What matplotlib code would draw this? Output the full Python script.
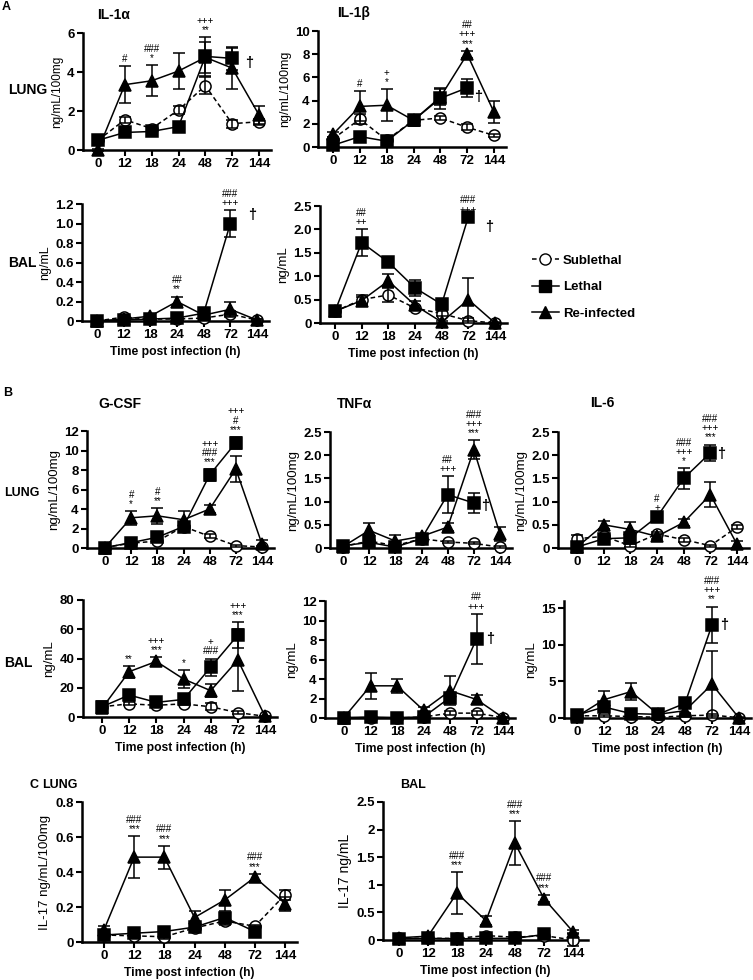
import numpy as np
import matplotlib
matplotlib.use("Agg")
import matplotlib.pyplot as plt
from matplotlib.lines import Line2D

plt.rcParams['font.family'] = ['Liberation Sans', 'DejaVu Sans']
plt.rcParams['font.weight'] = 'bold'

nan = np.nan
times = ["0", "12", "18", "24", "48", "72", "144"]

# ---- A: IL-1a / IL-1b ----
il1a_lung_sub = [0.5, 1.55, 1.1, 2.05, 3.3, 1.35, 1.45]
il1a_lung_sub_err = [0.05, 0.15, 0.1, 0.2, 0.45, 0.2, 0.15]
il1a_lung_let = [0.5, 0.9, 0.95, 1.2, 4.8, 4.7, nan]
il1a_lung_let_err = [0.1, 0.05, 0.1, 0.05, 1.0, 0.6, nan]
il1a_lung_rei = [0.0, 3.35, 3.55, 4.05, 4.75, 4.2, 1.8]
il1a_lung_rei_err = [0.05, 0.95, 0.8, 0.9, 0.8, 1.05, 0.45]
il1a_lung_sig = {1: "#", 2: "###\n*", 4: "+++\n**"}

il1b_lung_sub = [0.7, 2.4, 0.6, 2.3, 2.5, 1.7, 1.0]
il1b_lung_sub_err = [0.2, 0.45, 0.2, 0.3, 0.2, 0.25, 0.1]
il1b_lung_let = [0.15, 0.9, 0.5, 2.3, 4.2, 5.1, nan]
il1b_lung_let_err = [0.1, 0.1, 0.1, 0.5, 0.9, 0.75, nan]
il1b_lung_rei = [1.1, 3.5, 3.6, 2.3, 4.3, 8.0, 3.0]
il1b_lung_rei_err = [0.2, 1.3, 1.4, 0.3, 0.7, 0.3, 0.95]
il1b_lung_sig = {1: "#", 2: "+\n*", 5: "##\n+++\n***"}

il1a_bal_sub = [0.0, 0.04, 0.02, 0.02, 0.03, 0.07, 0.01]
il1a_bal_sub_err = [0.01, 0.02, 0.01, 0.01, 0.01, 0.03, 0.01]
il1a_bal_let = [0.0, 0.01, 0.02, 0.03, 0.08, 1.0, nan]
il1a_bal_let_err = [0.01, 0.01, 0.01, 0.01, 0.02, 0.14, nan]
il1a_bal_rei = [0.0, 0.02, 0.05, 0.2, 0.06, 0.12, 0.01]
il1a_bal_rei_err = [0.01, 0.01, 0.01, 0.05, 0.02, 0.07, 0.01]
il1a_bal_sig = {3: "##\n**", 5: "###\n+++"}

il1b_bal_sub = [0.25, 0.5, 0.6, 0.32, 0.2, 0.05, 0.0]
il1b_bal_sub_err = [0.05, 0.1, 0.15, 0.05, 0.05, 0.05, 0.02]
il1b_bal_let = [0.25, 1.72, 1.3, 0.75, 0.4, 2.27, nan]
il1b_bal_let_err = [0.1, 0.28, 0.08, 0.17, 0.05, 0.0, nan]
il1b_bal_rei = [0.25, 0.48, 0.9, 0.38, 0.02, 0.5, 0.0]
il1b_bal_rei_err = [0.05, 0.08, 0.14, 0.08, 0.02, 0.46, 0.01]
il1b_bal_sig = {1: "##\n++", 5: "###\n+++"}

# ---- B: G-CSF / TNFa / IL-6 ----
gcsf_lung_sub = [0.05, 0.5, 0.7, 2.2, 1.2, 0.25, 0.1]
gcsf_lung_sub_err = [0.05, 0.1, 0.1, 0.2, 0.2, 0.1, 0.1]
gcsf_lung_let = [0.05, 0.55, 1.1, 2.2, 7.5, 10.8, nan]
gcsf_lung_let_err = [0.05, 0.1, 0.2, 0.3, 0.6, 0.6, nan]
gcsf_lung_rei = [0.05, 3.1, 3.3, 2.9, 4.0, 8.1, 0.4]
gcsf_lung_rei_err = [0.05, 0.7, 0.8, 0.9, 0.4, 1.3, 0.4]
gcsf_lung_sig = {1: "#\n*", 2: "#\n**", 4: "+++\n###\n***", 5: "+++\n#\n***"}

tnfa_lung_sub = [0.03, 0.15, 0.05, 0.2, 0.13, 0.1, 0.02]
tnfa_lung_sub_err = [0.02, 0.05, 0.03, 0.05, 0.03, 0.02, 0.02]
tnfa_lung_let = [0.05, 0.12, 0.02, 0.2, 1.15, 0.97, nan]
tnfa_lung_let_err = [0.02, 0.05, 0.02, 0.05, 0.4, 0.22, nan]
tnfa_lung_rei = [0.03, 0.38, 0.15, 0.25, 0.45, 2.12, 0.3]
tnfa_lung_rei_err = [0.02, 0.15, 0.14, 0.05, 0.08, 0.2, 0.15]
tnfa_lung_sig = {4: "##\n+++", 5: "###\n+++\n***"}

il6_lung_sub = [0.2, 0.25, 0.05, 0.3, 0.18, 0.05, 0.45]
il6_lung_sub_err = [0.08, 0.05, 0.03, 0.05, 0.04, 0.02, 0.05]
il6_lung_let = [0.02, 0.2, 0.22, 0.67, 1.5, 2.05, nan]
il6_lung_let_err = [0.02, 0.05, 0.08, 0.03, 0.22, 0.18, nan]
il6_lung_rei = [0.02, 0.5, 0.4, 0.25, 0.55, 1.15, 0.08]
il6_lung_rei_err = [0.02, 0.08, 0.15, 0.05, 0.08, 0.27, 0.08]
il6_lung_sig = {3: "#\n+", 4: "###\n+++\n*", 5: "###\n+++\n***"}

gcsf_bal_sub = [7, 9, 8, 9, 7, 3, 0.5]
gcsf_bal_sub_err = [1, 1, 1, 1, 2.5, 1, 0.5]
gcsf_bal_let = [7, 15, 10, 12, 34, 56, nan]
gcsf_bal_let_err = [4, 2, 2, 2, 6, 9, nan]
gcsf_bal_rei = [6, 31, 38, 26, 18, 39, 0.5]
gcsf_bal_rei_err = [2, 4, 3, 6, 4.5, 21, 0.5]
gcsf_bal_sig = {1: "**", 2: "+++\n***", 3: "*", 4: "+\n###", 5: "+++\n***"}

tnfa_bal_sub = [0.0, 0.05, 0.0, 0.1, 0.5, 0.5, 0.05]
tnfa_bal_sub_err = [0.05, 0.05, 0.05, 0.05, 0.2, 0.2, 0.05]
tnfa_bal_let = [0.05, 0.1, 0.05, 0.1, 2.1, 8.1, nan]
tnfa_bal_let_err = [0.05, 0.05, 0.05, 0.05, 0.3, 2.6, nan]
tnfa_bal_rei = [0.05, 3.3, 3.3, 0.8, 2.8, 1.9, 0.05]
tnfa_bal_rei_err = [0.05, 1.3, 0.75, 0.3, 1.5, 0.5, 0.05]
tnfa_bal_sig = {5: "##\n+++"}

il6_bal_sub = [0.3, 0.3, 0.2, 0.1, 0.3, 0.4, 0.05]
il6_bal_sub_err = [0.1, 0.1, 0.1, 0.1, 0.1, 0.1, 0.05]
il6_bal_let = [0.4, 1.5, 0.6, 0.5, 2.0, 12.7, nan]
il6_bal_let_err = [0.1, 0.3, 0.1, 0.1, 0.3, 2.5, nan]
il6_bal_rei = [0.2, 2.5, 3.6, 0.5, 1.0, 4.6, 0.0]
il6_bal_rei_err = [0.1, 1.2, 1.2, 0.2, 0.3, 4.6, 0.05]
il6_bal_sig = {5: "###\n+++\n**"}

# ---- C: IL-17 ----
il17_lung_sub = [0.04, 0.035, 0.03, 0.08, 0.12, 0.09, 0.27]
il17_lung_sub_err = [0.01, 0.01, 0.01, 0.02, 0.02, 0.01, 0.03]
il17_lung_let = [0.04, 0.05, 0.06, 0.085, 0.14, 0.06, nan]
il17_lung_let_err = [0.02, 0.01, 0.01, 0.01, 0.02, 0.01, nan]
il17_lung_rei = [0.07, 0.485, 0.485, 0.14, 0.24, 0.37, 0.22]
il17_lung_rei_err = [0.02, 0.12, 0.065, 0.04, 0.06, 0.02, 0.04]
il17_lung_sig = {1: "###\n***", 2: "###\n***", 5: "###\n***"}

il17_bal_sub = [0.03, 0.03, 0.03, 0.08, 0.05, 0.08, 0.0]
il17_bal_sub_err = [0.02, 0.02, 0.02, 0.02, 0.02, 0.02, 0.1]
il17_bal_let = [0.02, 0.03, 0.02, 0.03, 0.03, 0.1, nan]
il17_bal_let_err = [0.02, 0.02, 0.02, 0.02, 0.02, 0.02, nan]
il17_bal_rei = [0.04, 0.07, 0.85, 0.35, 1.75, 0.75, 0.15]
il17_bal_rei_err = [0.02, 0.02, 0.38, 0.08, 0.4, 0.07, 0.03]
il17_bal_sig = {2: "###\n***", 4: "###\n***", 5: "###\n***"}

W, H = 753, 980
fig = plt.figure(figsize=(W / 100, H / 100), dpi=100)


def make_ax(spine, x0, x6, right, top, bottom, ymax):
    # place axes in pixel coords; x categories 0..6
    s = (x6 - x0) / 6
    ax = fig.add_axes([spine / W, 1 - bottom / H, (right - spine) / W, (bottom - top) / H])
    ax.set_xlim(-(x0 - spine) / s, 6 + (right - x6) / s)
    ax.set_ylim(0, ymax)
    return ax


def draw(ax, sub, sub_e, let, let_e, rei, rei_e, yticks, ylabels, ylabel, ylsize,
         sig, dagger=None, xlabel=True):
    x = np.arange(7)
    series = [(sub, sub_e, 'o', (0, (3, 2)), 'white'),
              (let, let_e, 's', '-', 'black'),
              (rei, rei_e, '^', '-', 'black')]
    for vals, errs, mk, ls, mfc in series:
        ax.plot(x, vals, linestyle=ls, marker=mk, color='black', mfc=mfc, mec='black',
                ms=8 if mk != '^' else 8.5, lw=1.1, mew=1.1, clip_on=False, zorder=3)
        ax.errorbar(x, vals, yerr=errs, fmt='none', ecolor='black', elinewidth=1.1,
                    capsize=4, capthick=1.1, clip_on=False, zorder=4)
    tops = np.nanmax(np.array([np.array(v) + np.array(e) for v, e, *_ in series]), axis=0)
    for i, txt in sig.items():
        ax.annotate(txt, (i, tops[i]), xytext=(0, 1.5), textcoords='offset points',
                    ha='center', va='bottom', fontsize=7, fontweight='normal',
                    linespacing=0.9, annotation_clip=False)
    if dagger is not None:
        ax.annotate('†', (5, let[5]), xytext=dagger, textcoords='offset points',
                    ha='center', va='center', fontsize=10.5, annotation_clip=False)
    ax.set_xticks(x)
    ax.set_xticklabels(times)
    ax.set_yticks(yticks)
    ax.set_yticklabels(ylabels)
    ax.set_ylabel(ylabel, fontsize=ylsize, fontweight='normal', labelpad=3)
    if xlabel:
        ax.set_xlabel("Time post infection (h)", fontsize=8.7, fontweight='bold', labelpad=3)
    for sp in ['top', 'right']:
        ax.spines[sp].set_visible(False)
    for sp in ['left', 'bottom']:
        ax.spines[sp].set_linewidth(1.8)
    ax.tick_params(direction='out', length=4, width=1.5, labelsize=9.5, pad=2)


def lab(vals, fmt):
    return ["0" if v == 0 else fmt.format(v) for v in vals]


t = [0, 2, 4, 6]
ax = make_ax(83, 98, 259, 271, 33, 150, 6)
draw(ax, il1a_lung_sub, il1a_lung_sub_err, il1a_lung_let, il1a_lung_let_err, il1a_lung_rei,
     il1a_lung_rei_err, t, lab(t, "{:g}"), "ng/mL/100mg", 8.5, il1a_lung_sig, (12, -3.6), False)

t = [0, 2, 4, 6, 8, 10]
ax = make_ax(318, 333, 494, 506, 31, 147, 10)
draw(ax, il1b_lung_sub, il1b_lung_sub_err, il1b_lung_let, il1b_lung_let_err, il1b_lung_rei,
     il1b_lung_rei_err, t, lab(t, "{:g}"), "ng/mL/100mg", 9, il1b_lung_sig, (7.5, -6.5), False)

t = [0, 0.2, 0.4, 0.6, 0.8, 1.0, 1.2]
ax = make_ax(82, 97, 257, 269, 204, 321, 1.2)
draw(ax, il1a_bal_sub, il1a_bal_sub_err, il1a_bal_let, il1a_bal_let_err, il1a_bal_rei,
     il1a_bal_rei_err, t, lab(t, "{:.1f}"), "ng/mL", 9, il1a_bal_sig, (15.8, 6))

t = [0, 0.5, 1.0, 1.5, 2.0, 2.5]
ax = make_ax(320, 335, 495, 507, 206, 323, 2.5)
draw(ax, il1b_bal_sub, il1b_bal_sub_err, il1b_bal_let, il1b_bal_let_err, il1b_bal_rei,
     il1b_bal_rei_err, t, lab(t, "{:.1f}"), "ng/mL", 9.5, il1b_bal_sig, (15, -7.3))

t = [0, 2, 4, 6, 8, 10, 12]
ax = make_ax(87, 105, 262, 274, 431, 548, 12)
draw(ax, gcsf_lung_sub, gcsf_lung_sub_err, gcsf_lung_let, gcsf_lung_let_err, gcsf_lung_rei,
     gcsf_lung_rei_err, t, lab(t, "{:g}"), "ng/mL/100mg", 9.5, gcsf_lung_sig, None, False)

t = [0, 0.5, 1.0, 1.5, 2.0, 2.5]
ax = make_ax(330, 343, 500, 512, 432, 548, 2.5)
draw(ax, tnfa_lung_sub, tnfa_lung_sub_err, tnfa_lung_let, tnfa_lung_let_err, tnfa_lung_rei,
     tnfa_lung_rei_err, t, lab(t, "{:.1f}"), "ng/mL/100mg", 9.5, tnfa_lung_sig, (8, -2), False)

ax = make_ax(558, 577, 737, 749, 432, 548, 2.5)
draw(ax, il6_lung_sub, il6_lung_sub_err, il6_lung_let, il6_lung_let_err, il6_lung_rei,
     il6_lung_rei_err, t, lab(t, "{:.1f}"), "ng/mL/100mg", 9.5, il6_lung_sig, (7.5, -0.5), False)

t = [0, 20, 40, 60, 80]
ax = make_ax(83, 102, 265, 277, 600, 717, 80)
draw(ax, gcsf_bal_sub, gcsf_bal_sub_err, gcsf_bal_let, gcsf_bal_let_err, gcsf_bal_rei,
     gcsf_bal_rei_err, t, lab(t, "{:g}"), "ng/mL", 9.5, gcsf_bal_sig, None)

t = [0, 2, 4, 6, 8, 10, 12]
ax = make_ax(325, 344, 503, 515, 601, 718, 12)
draw(ax, tnfa_bal_sub, tnfa_bal_sub_err, tnfa_bal_let, tnfa_bal_let_err, tnfa_bal_rei,
     tnfa_bal_rei_err, t, lab(t, "{:g}"), "ng/mL", 9.5, tnfa_bal_sig, (10, 0))

t = [0, 5, 10, 15]
ax = make_ax(564, 577, 739, 751, 600.7, 718, 16)
draw(ax, il6_bal_sub, il6_bal_sub_err, il6_bal_let, il6_bal_let_err, il6_bal_rei,
     il6_bal_rei_err, t, lab(t, "{:g}"), "ng/mL", 9.5, il6_bal_sig, (8.5, 0))

t = [0, 0.2, 0.4, 0.6, 0.8]
ax = make_ax(82, 104, 285, 297, 802, 942, 0.8)
draw(ax, il17_lung_sub, il17_lung_sub_err, il17_lung_let, il17_lung_let_err, il17_lung_rei,
     il17_lung_rei_err, t, lab(t, "{:.1f}"), "IL-17 ng/mL/100mg", 9.5, il17_lung_sig, None)

t = [0, 0.5, 1, 1.5, 2, 2.5]
ax = make_ax(383, 399, 573, 588, 802, 940, 2.5)
draw(ax, il17_bal_sub, il17_bal_sub_err, il17_bal_let, il17_bal_let_err, il17_bal_rei,
     il17_bal_rei_err, t, lab(t, "{:g}"), "IL-17 ng/mL", 10, il17_bal_sig, None)


def ftext(x, y, s, size=10, **kw):
    fig.text(x / W, 1 - y / H, s, fontsize=size, fontweight='bold', va='center', ha='left', **kw)


# titles, row labels, panel letters
ftext(97, 15, "IL-1α")
ftext(337, 13, "IL-1β")
ftext(98, 404, "G-CSF")
ftext(337, 404, "TNFα")
ftext(590, 403, "IL-6")
ftext(42, 785, "LUNG", 9)
ftext(400, 785, "BAL", 9)
ftext(8, 90, "LUNG")
ftext(8, 263, "BAL")
ftext(4, 493, "LUNG", 9)
ftext(4, 663, "BAL")
ftext(2, 7, "A", 9)
ftext(3, 393, "B", 9)
ftext(30, 785, "C", 9)

handles = [
    Line2D([], [], color='black', linestyle=(0, (3, 2)), marker='o', mfc='white', ms=8, lw=1.1),
    Line2D([], [], color='black', linestyle='-', marker='s', ms=8, lw=1.1),
    Line2D([], [], color='black', linestyle='-', marker='^', ms=8.5, lw=1.1),
]
fig.legend(handles, ["Sublethal", "Lethal", "Re-infected"], loc='upper left',
           bbox_to_anchor=(527 / W, 1 - 249 / H), frameon=False, fontsize=9.5,
           handlelength=2.0, handletextpad=0.3, labelspacing=1.1, borderaxespad=0)

fig.savefig("out.png", dpi=100)
